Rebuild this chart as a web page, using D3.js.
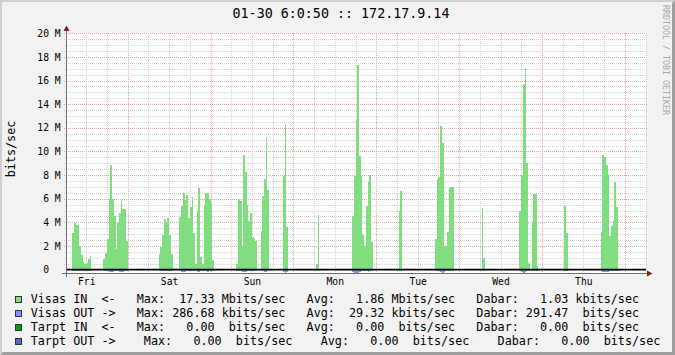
<!DOCTYPE html>
<html>
<head>
<meta charset="utf-8">
<title>172.17.9.14</title>
<script src="https://cdn.jsdelivr.net/npm/d3@7/dist/d3.min.js"></script>
<style>
body { margin: 0; background: #f2f2f2; }
text { font-family: "DejaVu Sans Mono", monospace; white-space: pre; fill: #000; }
</style>
</head>
<body>
<script>
// one week of 30 minute averages, ending 01-30 6:00:50
var startTime = new Date(2009, 0, 23, 6, 0, 0);
var endTime = new Date(2009, 0, 30, 6, 0, 0);
var stepMinutes = 30;

// Visas IN in Mbits/sec, one line per day starting at 06:00
var visasIn = [
  0,0,0,0,3.1,3.94,3.75,3.75,2.0,1.23,0.64,0.5,0.6,0.89,1.14,0,0,0,0,0,0,0,0.9,1.4,2.56,5.95,8.86,5.95,4.53,1.73,3.97,4.81,5.8,5.1,5.1,2.44,0,0,0,0,0,0,0,0,0,0,0,0,
  0,0,0,0,0,0,1.29,1.93,2.92,4.28,4.0,4.34,2.9,1.29,0.1,0,0,0,4.47,5.38,6.5,5.9,6.3,4.4,5.3,6.17,3.1,0.5,4.96,6.93,1.08,0.5,5.47,6.45,6.45,5.97,5.6,0.8,0,0,0,0,0,0,0,0,0,0,
  0,0,0,0.5,5.95,5.8,2.0,9.7,8.26,5.47,4.1,4.76,2.78,2.6,2.4,0,0,3.28,6.27,7.7,11.2,6.74,0,0,0,0,0,0,0,0,7.94,12.3,3.63,0,0,0,0,0,0,0,0,0,0,0,0,0,0,0,
  0,0.47,4.6,0,0,0,0,0,0,0,0,0,0,0,0,0,0,0,0,0,0,0,4.53,7.92,12.75,17.33,9.6,7.9,2.92,2.0,5.38,7.44,8.0,2.36,0,0,0,0,0,0,0,0,0,0,0,0,0,0,
  0,4.96,6.65,0,0,0,0,0,0,0,0,0,0,0,0,0,0,0,0,0,0,0,2.58,7.67,7.86,12.16,10.7,2.0,2.0,3.18,6.93,7.0,7.0,0,0,0,0,0,0,0,0,0,0,0,0,0,0,0,
  0,5.2,1.0,0,0,0,0,0,0,0,0,0,0,0,0,0,0,0,0,0,0,0,0,4.99,8.0,15.7,17.05,9.0,0.53,0,4.05,6.37,6.37,0.33,0,0,0,0,0,0,0,0,0,0,0,0,0,0,
  0,5.38,3.12,0,0,0,0,0,0,0,0,0,0,0,0,0,0,0,0,0,0,0,3.18,9.68,9.51,8.83,8.07,2.84,3.71,4.14,7.42,5.32,0.08,0,0,0,0,0,0,0,0,0,0,0,0,0,0,0
];

// Visas OUT in Mbits/sec (drawn below zero)
var visasOut = [
  0,0,0,0,.15,.15,.15,.15,.15,.15,.14,.14,.12,.12,.12,0,0,0,0,0,0,0,.12,.15,.15,.18,.24,.18,.15,.15,.15,.18,.22,.2,.15,.12,0,0,0,0,0,0,0,0,0,0,0,0,
  0,0,0,0,0,0,.12,.15,.15,.15,.15,.15,.15,.12,0,0,0,0,.15,.2,.24,.22,.15,.15,.15,.15,.15,.1,.2,.22,.15,.1,.15,.15,.18,.15,.15,.1,0,0,0,0,0,0,0,0,0,0,
  0,0,0,.1,.15,.15,.2,.22,.2,.15,.15,.15,.15,.15,.15,0,0,.15,.15,.18,.22,.15,0,0,0,0,0,0,0,0,.22,.25,.18,0,0,0,0,0,0,0,0,0,0,0,0,0,0,0,
  0,.1,.12,0,0,0,0,0,0,0,0,0,0,0,0,0,0,0,0,0,0,0,.2,.26,.287,.25,.22,.15,.15,.15,.15,.18,.15,.12,0,0,0,0,0,0,0,0,0,0,0,0,0,0,
  0,.12,.12,0,0,0,0,0,0,0,0,0,0,0,0,0,0,0,0,0,0,0,.15,.15,.15,.22,.28,.24,.15,.15,.15,.15,.15,0,0,0,0,0,0,0,0,0,0,0,0,0,0,0,
  0,.12,.1,0,0,0,0,0,0,0,0,0,0,0,0,0,0,0,0,0,0,0,0,.15,.2,.26,.24,.15,.12,0,.12,.15,.15,.1,0,0,0,0,0,0,0,0,0,0,0,0,0,0,
  0,.12,.12,0,0,0,0,0,0,0,0,0,0,0,0,0,0,0,0,0,0,0,.15,.18,.18,.18,.18,.15,.15,.15,.15,.15,.1,0,0,0,0,0,0,0,0,0,0,0,0,0,0,0
];

var yTicks = [0, 2, 4, 6, 8, 10, 12, 14, 16, 18, 20];
var title = "01-30 6:0:50 :: 172.17.9.14";
var yTitle = "bits/sec";
var watermark = "RRDTOOL / TOBI OETIKER";

var legendLabels = [
  "Visas IN  <-   Max:  17.33 Mbits/sec   Avg:   1.86 Mbits/sec   Dabar:   1.03 kbits/sec",
  "Visas OUT ->   Max: 286.68 kbits/sec   Avg:  29.32 kbits/sec   Dabar: 291.47  bits/sec",
  "Tarpt IN  <-   Max:   0.00  bits/sec   Avg:   0.00  bits/sec   Dabar:   0.00  bits/sec",
  "Tarpt OUT ->    Max:   0.00  bits/sec    Avg:   0.00  bits/sec    Dabar:   0.00  bits/sec"
];
var legendColors = ["#80dd80", "#8a90ff", "#00a000", "#4f6fc6"];

var width = 675,
    height = 355;

var svg = d3.select("body").append("svg")
    .attr("width", width)
    .attr("height", height);

// background and 3d frame
svg.append("rect").attr("width", width).attr("height", height).attr("fill", "#f2f2f2");
svg.append("path").attr("d", "M675,0V355H0L3,352H672V3Z").attr("fill", "#9e9e9e");
svg.append("path").attr("d", "M0,0H675L673,2H2V353L0,355Z").attr("fill", "#cfcfcf");

var x = d3.scaleTime()
    .domain([startTime, endTime])
    .range([65.5, 645.5]);

var y = d3.scaleLinear()
    .domain([-d3.max(visasOut), 20])
    .range([273, 33.3]);

// canvas
svg.append("rect")
    .attr("x", 66).attr("y", 33)
    .attr("width", 580).attr("height", 240)
    .attr("fill", "#fff");

var grid = svg.append("g").attr("shape-rendering", "crispEdges");

// horizontal grid, minor every 0.5 M, major every 2 M
d3.range(0.5, 20.01, 0.5).forEach(function(v) {
  var major = v % 2 === 0;
  var yy = Math.round(y(v)) + 0.5;
  grid.append("line")
      .attr("x1", 64).attr("x2", 648)
      .attr("y1", yy).attr("y2", yy)
      .attr("stroke", major ? "#e9a3a3" : "#d2d2d2")
      .attr("stroke-dasharray", "1,1");
});

// vertical grid, minor every 6 hours, major at midnight
x.ticks(d3.timeHour.every(6)).forEach(function(t) {
  var major = t.getHours() === 0;
  var xx = Math.round(x(t)) + 0.5;
  grid.append("line")
      .attr("x1", xx).attr("x2", xx)
      .attr("y1", 33).attr("y2", major ? 275 : 273)
      .attr("stroke", major ? "#e9a3a3" : "#d2d2d2")
      .attr("stroke-dasharray", "1,1");
});

// one column per 30 minute sample
function slotX(i) {
  return Math.round(x(d3.timeMinute.offset(startTime, i * stepMinutes)));
}

var y0 = Math.round(y(0));

var inBars = svg.append("g")
    .attr("shape-rendering", "crispEdges")
    .attr("fill", legendColors[0]);
visasIn.forEach(function(v, i) {
  if (!v) return;
  var top = Math.round(y(v));
  inBars.append("rect")
      .attr("x", slotX(i))
      .attr("width", slotX(i + 1) - slotX(i))
      .attr("y", top)
      .attr("height", Math.max(1, y0 - top));
});

var outBars = svg.append("g")
    .attr("shape-rendering", "crispEdges")
    .attr("fill", legendColors[1]);
visasOut.forEach(function(v, i) {
  if (!v) return;
  var bottom = Math.round(y(-v));
  outBars.append("rect")
      .attr("x", slotX(i))
      .attr("width", slotX(i + 1) - slotX(i))
      .attr("y", y0)
      .attr("height", Math.max(1, bottom - y0));
});

// zero rule
svg.append("line")
    .attr("x1", 66).attr("x2", 646)
    .attr("y1", y(0)).attr("y2", y(0))
    .attr("stroke", "#000")
    .attr("stroke-width", 1.6);

// axes lines and arrows
svg.append("line")
    .attr("x1", 62).attr("x2", 648)
    .attr("y1", 273.5).attr("y2", 273.5)
    .attr("stroke", "#6e6e6e");
svg.append("line")
    .attr("x1", 66.5).attr("x2", 66.5)
    .attr("y1", 277).attr("y2", 29)
    .attr("stroke", "#6e6e6e");
svg.append("path")
    .attr("d", "M66.5,25.5L69.5,31L63.5,31Z")
    .attr("fill", "#7f1f1f");
svg.append("path")
    .attr("d", "M652.5,273.5L647,270.5L647,276.5Z")
    .attr("fill", "#7f1f1f");

// y labels
var yAxis = svg.append("g")
    .attr("transform", "translate(66.5,0)")
    .call(d3.axisLeft(y)
      .tickValues(yTicks)
      .tickFormat(function(v) { return v ? v + " M" : "0  "; })
      .tickSize(0)
      .tickPadding(5.8));
yAxis.select(".domain").remove();
yAxis.attr("font-size", 9.7);

// day labels at noon
var noons = d3.timeDay.range(d3.timeDay.floor(startTime), endTime)
    .map(function(d) { return d3.timeHour.offset(d, 12); })
    .filter(function(d) { return d <= endTime; });

var xAxis = svg.append("g")
    .attr("transform", "translate(0,273)")
    .call(d3.axisBottom(x)
      .tickValues(noons)
      .tickFormat(d3.timeFormat("%a"))
      .tickSize(0)
      .tickPadding(5));
xAxis.select(".domain").remove();
xAxis.attr("font-size", 9.7);

// title
svg.append("text")
    .attr("x", 341).attr("y", 18.3)
    .attr("text-anchor", "middle")
    .attr("font-size", 13.35)
    .text(title);

// vertical unit label
svg.append("text")
    .attr("transform", "translate(15,149) rotate(-90)")
    .attr("text-anchor", "middle")
    .attr("font-size", 11.76)
    .text(yTitle);

// watermark
svg.append("text")
    .attr("transform", "translate(663,5) rotate(90)")
    .attr("font-size", 8.3)
    .style("fill", "#a6a6a6")
    .text(watermark);

// legend
var legend = svg.append("g");
legendLabels.forEach(function(label, i) {
  legend.append("rect")
      .attr("x", 15.5).attr("y", 296.5 + i * 14)
      .attr("width", 6).attr("height", 6)
      .attr("fill", legendColors[i])
      .attr("stroke", "#333")
      .attr("shape-rendering", "crispEdges");
  legend.append("text")
      .attr("x", 30.7).attr("y", 302.5 + i * 14)
      .attr("font-size", 11.76)
      .text(label);
});
</script>
</body>
</html>
